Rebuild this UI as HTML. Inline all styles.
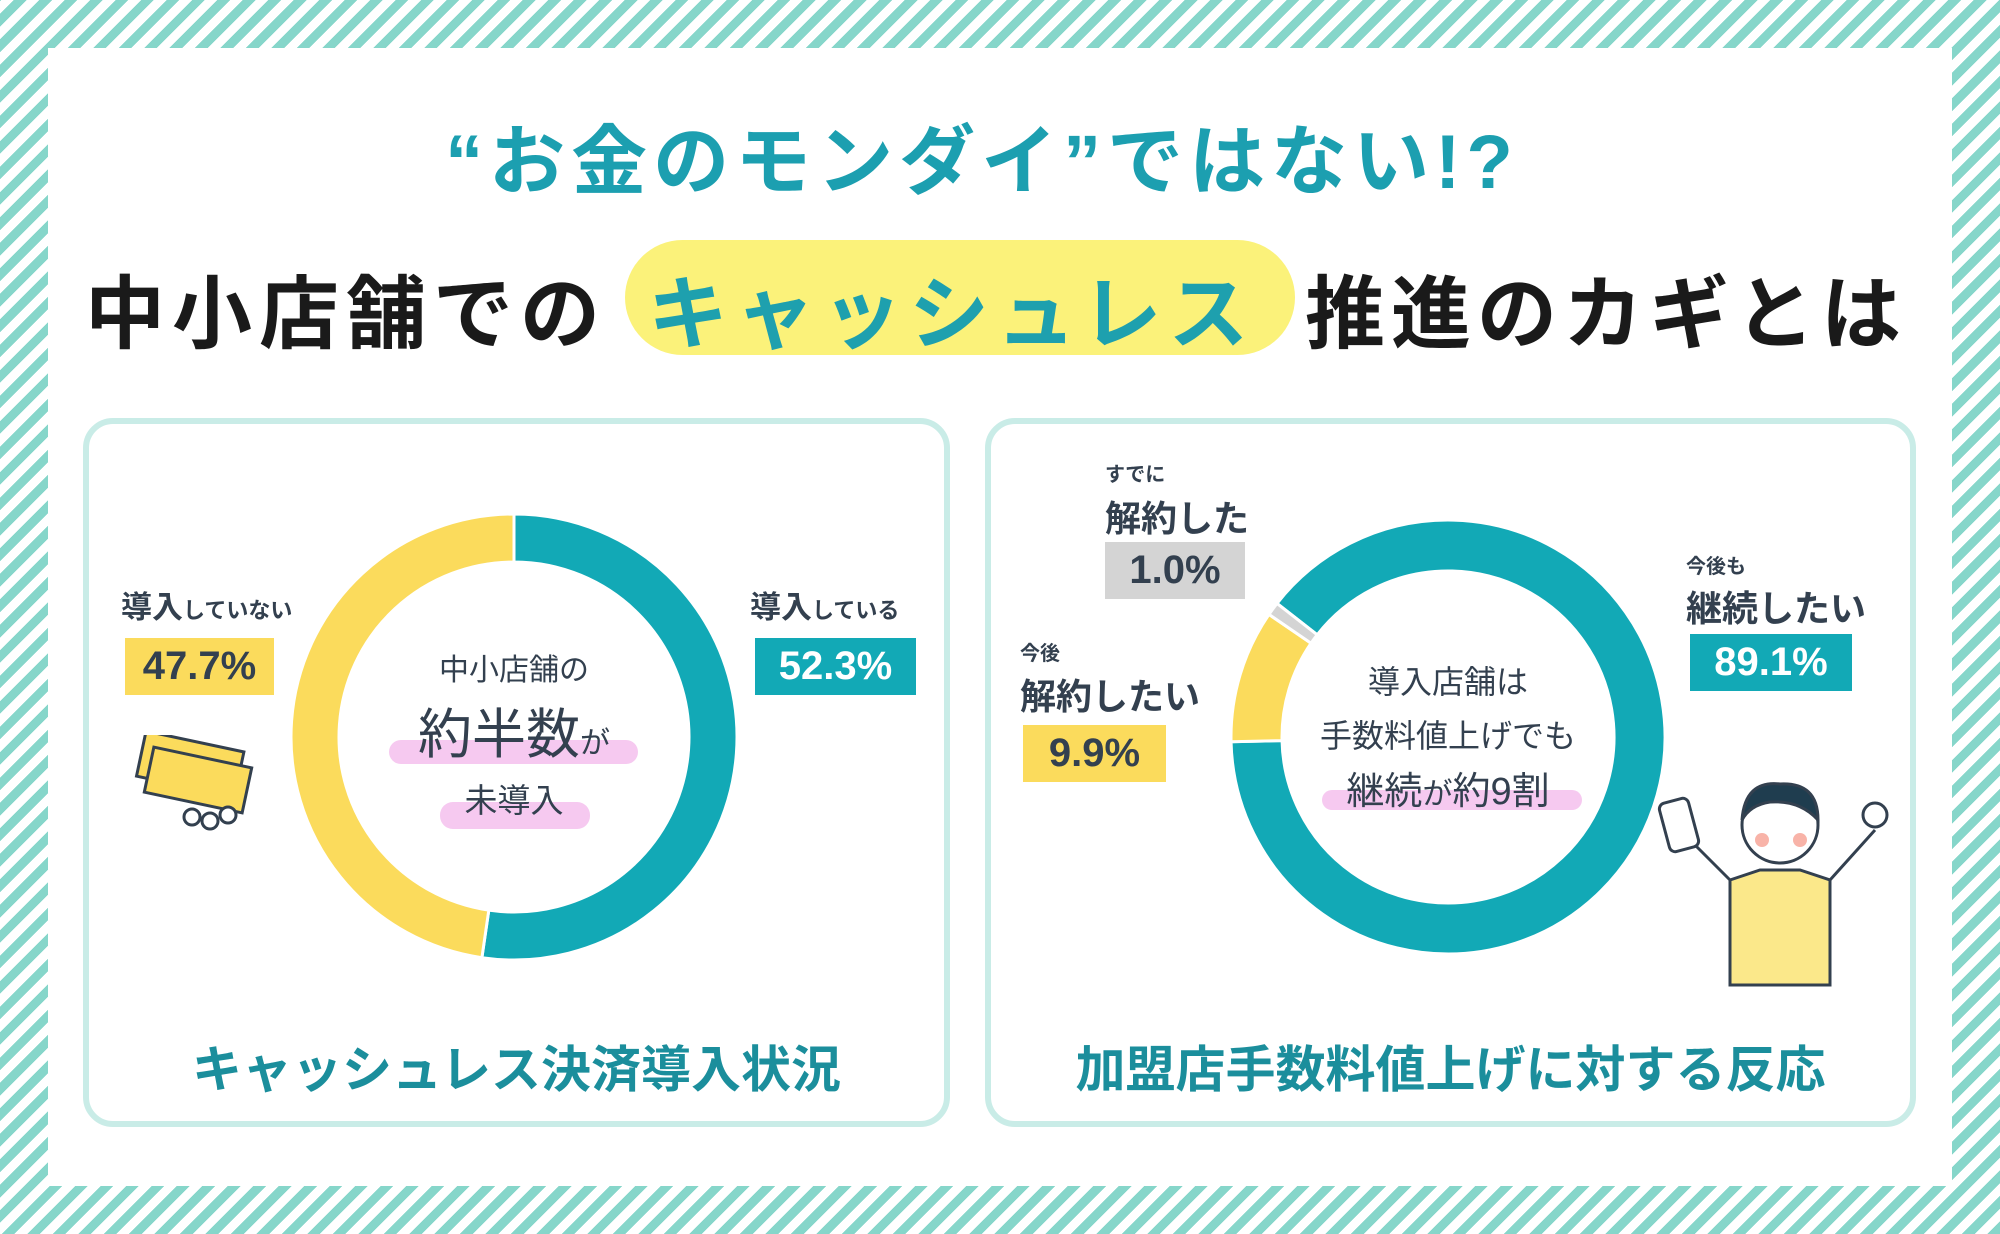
<!DOCTYPE html>
<html><head><meta charset="utf-8">
<style>
html,body{margin:0;padding:0;}
body{width:2000px;height:1234px;overflow:hidden;position:relative;font-family:"Liberation Sans","Noto Sans CJK JP",sans-serif;
background:repeating-linear-gradient(-45deg,#86d6ca 0 9px,#ffffff 9px 18px);}
.abs{position:absolute;white-space:nowrap;}
#main{position:absolute;left:48px;top:48px;width:1904px;height:1138px;background:#fff;}
.panel{position:absolute;top:418px;height:709px;border:6px solid #c9ece7;border-radius:30px;background:#fff;box-sizing:border-box;}
.lbl{color:#33404f;font-weight:bold;}
.box{position:absolute;font-weight:bold;font-size:40px;text-align:center;line-height:57px;height:57px;}
</style></head>
<body>
<div id="main"></div>
<div class="abs" style="left:0;width:1964px;text-align:center;top:100px;font-size:76px;font-weight:bold;color:#1c9fb0;letter-spacing:6px;">“お金のモンダイ”ではない!?</div>
<div class="abs" style="left:625px;top:240px;width:670px;height:115px;border-radius:58px;background:#fbf27a;"></div>
<div class="abs" style="left:85px;top:250px;font-size:80px;font-weight:bold;color:#1a1a1a;letter-spacing:7px;">中小店舗での</div>
<div class="abs" style="left:648px;top:250px;font-size:80px;font-weight:bold;color:#1ea0ae;letter-spacing:7px;">キャッシュレス</div>
<div class="abs" style="left:1305px;top:250px;font-size:80px;font-weight:bold;color:#1a1a1a;letter-spacing:6px;">推進のカギとは</div>

<div class="panel" style="left:83px;width:867px;"></div>
<div class="panel" style="left:985px;width:931px;"></div>

<svg id="charts" width="2000" height="1234" style="position:absolute;left:0;top:0;"></svg>

<div class="abs lbl" style="left:121px;top:582px;font-size:31px;">導入<span style="font-size:22px">していない</span></div>
<div class="box" style="left:125px;top:638px;width:149px;background:#fbdb5c;color:#33404f;">47.7%</div>
<div class="abs lbl" style="left:750px;top:582px;font-size:31px;">導入<span style="font-size:22px">している</span></div>
<div class="box" style="left:755px;top:638px;width:161px;background:#12a9b6;color:#fff;">52.3%</div>
<div class="abs" style="left:389px;top:740px;width:249px;height:24px;border-radius:12px;background:#f6c9f0;"></div>
<div class="abs" style="left:440px;top:802px;width:150px;height:27px;border-radius:13px;background:#f6c9f0;"></div>
<div class="abs" style="left:314px;width:400px;top:656px;text-align:center;color:#33404f;line-height:1;">
<div style="font-size:30px;">中小店舗の</div>
<div style="font-size:54px;margin-top:22px;">約半数<span style="font-size:30px">が</span></div>
<div style="font-size:33px;margin-top:22px;">未導入</div></div>
<div class="abs" style="left:83px;width:867px;text-align:center;top:1030px;font-size:50px;font-weight:bold;color:#1b8e9c;">キャッシュレス決済導入状況</div>
<svg class="abs" width="140" height="100" style="left:132px;top:735px;">
<g fill="#fbdb5c" stroke="#33404f" stroke-width="3"><rect x="8" y="6" width="100" height="46" transform="rotate(12 58 30)"/><rect x="16" y="22" width="100" height="46" transform="rotate(12 66 45)"/><circle cx="60" cy="82" r="8" fill="#fff"/><circle cx="78" cy="86" r="8" fill="#fff"/><circle cx="96" cy="80" r="8" fill="#fff"/></g></svg>

<div class="abs lbl" style="left:1105px;top:458px;font-size:20px;">すでに</div>
<div class="abs lbl" style="left:1105px;top:490px;font-size:36px;">解約した</div>
<div class="box" style="left:1105px;top:542px;width:140px;background:#d4d4d4;color:#33404f;">1.0%</div>
<div class="abs lbl" style="left:1020px;top:637px;font-size:20px;">今後</div>
<div class="abs lbl" style="left:1020px;top:668px;font-size:36px;">解約したい</div>
<div class="box" style="left:1023px;top:725px;width:143px;background:#fbdb5c;color:#33404f;">9.9%</div>
<div class="abs lbl" style="left:1686px;top:550px;font-size:20px;">今後も</div>
<div class="abs lbl" style="left:1686px;top:580px;font-size:36px;">継続したい</div>
<div class="box" style="left:1690px;top:634px;width:162px;background:#12a9b6;color:#fff;">89.1%</div>
<div class="abs" style="left:1322px;top:790px;width:260px;height:20px;border-radius:10px;background:#f6c9f0;"></div>
<div class="abs" style="left:1248px;width:400px;top:666px;text-align:center;color:#33404f;line-height:1;">
<div style="font-size:32px;">導入店舗は</div>
<div style="font-size:32px;margin-top:22px;">手数料値上げでも</div>
<div style="font-size:38px;margin-top:21px;">継続<span style="font-size:30px">が</span>約9割</div></div>
<div class="abs" style="left:985px;width:931px;text-align:center;top:1030px;font-size:50px;font-weight:bold;color:#1b8e9c;">加盟店手数料値上げに対する反応</div>
<svg class="abs" width="260" height="230" style="left:1650px;top:760px;">
<g stroke="#33404f" stroke-width="3" fill="#fff">
<path d="M80 120 L110 110 L150 110 L180 120 L180 225 L80 225 Z" fill="#fbe88a"/>
<path d="M80 120 L40 80 M180 120 L225 70"/>
<rect x="14" y="40" width="30" height="50" rx="6" transform="rotate(-15 29 65)"/>
<circle cx="225" cy="55" r="12"/>
<circle cx="130" cy="65" r="38"/>
<path d="M92 60 Q95 20 130 24 Q168 22 168 60 Q150 40 120 42 Q100 45 92 60 Z" fill="#1f3d4f"/>
<circle cx="112" cy="80" r="7" fill="#f8b3a8" stroke="none"/><circle cx="150" cy="80" r="7" fill="#f8b3a8" stroke="none"/>
</g></svg>

<script>
const leftCategories = ["導入している","導入していない"];
const leftValues = [52.3, 47.7];
const leftColors = ["#12a9b6","#fbdb5c"];
const rightCategories = ["今後も継続したい","今後解約したい","すでに解約した"];
const rightValues = [89.1, 9.9, 1.0];
const rightColors = ["#12a9b6","#fbdb5c","#d4d4d4"];

const NS = "http://www.w3.org/2000/svg";
const svg = document.getElementById('charts');
function pt(cx, cy, r, deg){const a=(deg-90)*Math.PI/180;return [cx+r*Math.cos(a), cy+r*Math.sin(a)];}
function arcPath(cx, cy, r0, r1, a0, a1){
  const large = (a1-a0)>180?1:0;
  const p1=pt(cx,cy,r1,a0), p2=pt(cx,cy,r1,a1), p3=pt(cx,cy,r0,a1), p4=pt(cx,cy,r0,a0);
  return `M${p1[0]} ${p1[1]} A${r1} ${r1} 0 ${large} 1 ${p2[0]} ${p2[1]} L${p3[0]} ${p3[1]} A${r0} ${r0} 0 ${large} 0 ${p4[0]} ${p4[1]} Z`;
}
function donut(cx, cy, r0, r1, startDeg, values, colors, cats, prefix){
  const total = values.reduce((a,b)=>a+b,0);
  let a = startDeg;
  values.forEach((v,i)=>{
    const span = v/total*360;
    const p = document.createElementNS(NS,'path');
    p.setAttribute('d', arcPath(cx,cy,r0,r1,a,a+span));
    p.setAttribute('fill', colors[i]);
    p.setAttribute('stroke', '#fff');
    p.setAttribute('stroke-width', '3');
    
    
    const t = document.createElementNS(NS,'title'); t.textContent = cats[i] + ' ' + v + '%'; p.appendChild(t);
    svg.appendChild(p);
    a += span;
  });
}
donut(514, 737, 175, 223, 0, leftValues, leftColors, leftCategories, 'left-donut');
donut(1448, 737, 166, 217, -52, rightValues, rightColors, rightCategories, 'right-donut');
</script>
</body></html>
